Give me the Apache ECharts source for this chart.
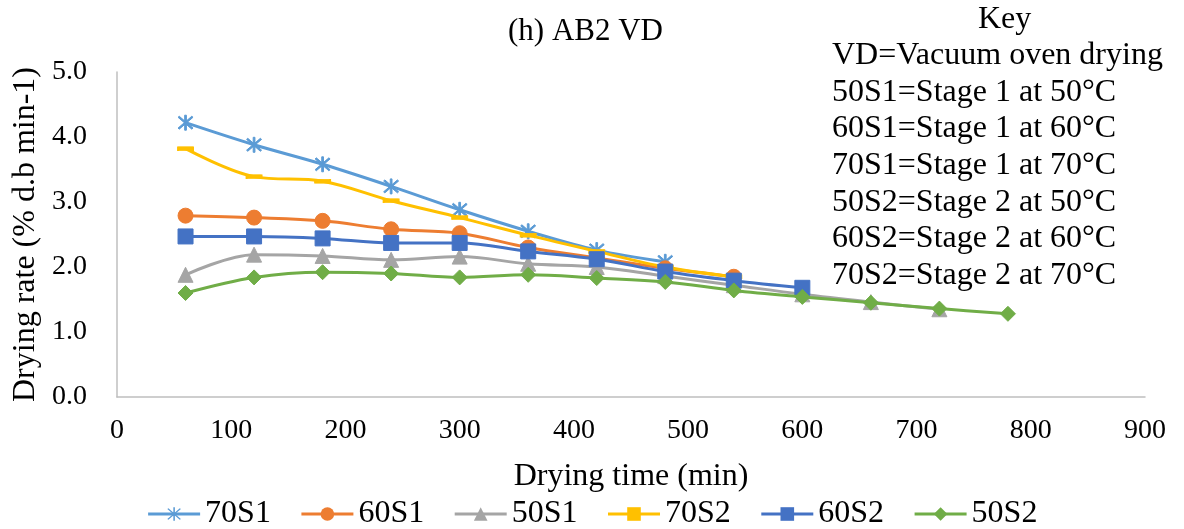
<!DOCTYPE html>
<html>
<head>
<meta charset="utf-8">
<script src="https://cdn.jsdelivr.net/npm/echarts@6/dist/echarts.min.js"></script>
<style>
  html, body { margin: 0; padding: 0; background: #fff; }
  #chart { width: 1184px; height: 529px; }
</style>
</head>
<body>
<div id="chart"></div>
<script>
// Drying time (min) at each reading
const times = [60, 120, 180, 240, 300, 360, 420, 480, 540, 600, 660, 720, 780];

// Drying rate (% d.b min-1) per treatment
const s70S1 = [4.22, 3.88, 3.58, 3.24, 2.88, 2.55, 2.26, 2.08];
const s60S1 = [2.79, 2.76, 2.71, 2.58, 2.52, 2.30, 2.14, 1.98, 1.85];
const s50S1 = [1.88, 2.19, 2.17, 2.11, 2.16, 2.05, 2.00, 1.86, 1.72, 1.58, 1.46, 1.35];
const s70S2 = [3.82, 3.39, 3.32, 3.02, 2.76, 2.49, 2.24, 2.00, 1.85];
const s60S2 = [2.47, 2.47, 2.44, 2.37, 2.37, 2.24, 2.12, 1.93, 1.79, 1.68];
const s50S2 = [1.60, 1.84, 1.92, 1.90, 1.84, 1.88, 1.83, 1.77, 1.64, 1.54, 1.45, 1.36, 1.28];

const seriesNames = ['70S1', '60S1', '50S1', '70S2', '60S2', '50S2'];
const keyLines = [
  'VD=Vacuum oven drying',
  '50S1=Stage 1 at 50°C',
  '60S1=Stage 1 at 60°C',
  '70S1=Stage 1 at 70°C',
  '50S2=Stage 2 at 50°C',
  '60S2=Stage 2 at 60°C',
  '70S2=Stage 2 at 70°C'
];

const FONT = "'Liberation Serif', 'Times New Roman', serif";
const asterisk = 'path://M9,0L11,0L11,20L9,20Z M1.4,2.8L2.8,1.4L18.6,17.2L17.2,18.6Z M17.2,1.4L18.6,2.8L2.8,18.6L1.4,17.2Z';

function pairs(vals) {
  return vals.map((v, i) => [times[i], v]);
}

const styles = [
  { data: s70S1, color: '#5B9BD5', symbol: asterisk, size: 15 },
  { data: s60S1, color: '#ED7D31', symbol: 'circle', size: 15 },
  { data: s50S1, color: '#A5A5A5', symbol: 'triangle', size: 15 },
  { data: s70S2, color: '#FFC000', symbol: 'rect', size: [15, 4] },
  { data: s60S2, color: '#4472C4', symbol: 'rect', size: 15 },
  { data: s50S2, color: '#70AD47', symbol: 'diamond', size: 15 }
];

const series = styles.map((s, i) => ({
  name: seriesNames[i],
  type: 'line',
  data: pairs(s.data),
  smooth: 0.35,
  symbol: s.symbol,
  symbolSize: s.size,
  showAllSymbol: true,
  lineStyle: { color: s.color, width: 3 },
  itemStyle: { color: s.color, borderColor: s.color },
  z: 2 + i
}));

const graphics = [
  {
    type: 'text', left: 508, top: 16,
    style: { text: '(h) AB2 VD', font: '31px ' + FONT, fill: '#000' }
  },
  {
    type: 'text', left: 978, top: 4,
    style: { text: 'Key', font: '32px ' + FONT, fill: '#000' }
  }
];
keyLines.forEach((t, i) => {
  graphics.push({
    type: 'text', left: 832, top: 39.5 + i * 36.7,
    style: { text: t, font: '32px ' + FONT, fill: '#000' }
  });
});

const chart = echarts.init(document.getElementById('chart'));
chart.setOption({
  animation: false,
  backgroundColor: '#fff',
  textStyle: { fontFamily: FONT, color: '#000' },
  grid: {
    left: 117, right: 39, top: 72, bottom: 132,
    containLabel: false,
    outerBoundsMode: 'none'
  },
  xAxis: {
    type: 'value',
    min: 0, max: 900, interval: 100,
    name: 'Drying time (min)',
    nameLocation: 'middle',
    nameGap: 64,
    nameTextStyle: { fontSize: 32, fontFamily: FONT, color: '#000' },
    axisLine: { show: true, lineStyle: { color: '#BFBFBF', width: 1.5 } },
    axisTick: { show: false },
    splitLine: { show: false },
    axisLabel: { fontSize: 28, fontFamily: FONT, color: '#000', margin: 20 }
  },
  yAxis: {
    type: 'value',
    min: 0, max: 5, interval: 1,
    name: 'Drying rate (% d.b min-1)',
    nameLocation: 'middle',
    nameGap: 60,
    nameTextStyle: { fontSize: 32, fontFamily: FONT, color: '#000' },
    axisLine: { show: true, lineStyle: { color: '#BFBFBF', width: 1.5 } },
    axisTick: { show: false },
    splitLine: { show: false },
    axisLabel: {
      fontSize: 28, fontFamily: FONT, color: '#000', margin: 30,
      formatter: v => v.toFixed(1)
    }
  },
  legend: {
    data: seriesNames,
    left: 'center',
    top: 493,
    itemWidth: 52,
    itemHeight: 17,
    itemGap: 29,
    lineStyle: { width: 3 },
    textStyle: { fontSize: 32, fontFamily: FONT, color: '#000' }
  },
  graphic: graphics,
  series: series
});
</script>
</body>
</html>
